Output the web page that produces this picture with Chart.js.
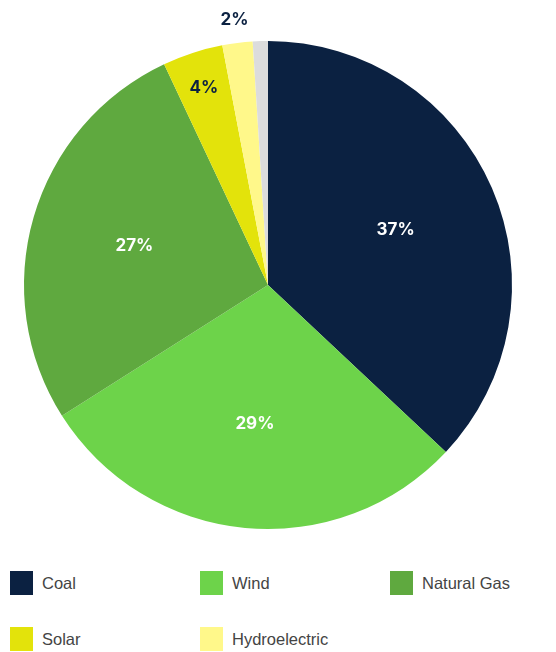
<!DOCTYPE html>
<html>
<head>
<meta charset="utf-8">
<script src="https://cdn.jsdelivr.net/npm/chart.js@4"></script>
<style>
  html, body { margin: 0; padding: 0; background: #fff; }
  #wrap { position: relative; width: 556px; height: 545px; }
  #legend { position: absolute; top: 571px; left: 10px; width: 546px; font-family: "Liberation Sans", Arial, sans-serif; font-size: 16.5px; color: #444; }
  .item { position: absolute; display: flex; align-items: center; height: 24px; }
  .box { width: 23px; height: 24px; margin-right: 9px; }
</style>
</head>
<body>
<div id="wrap"><canvas id="pie"></canvas></div>
<div id="legend"></div>
<script>
const labels = ["Coal", "Wind", "Natural Gas", "Solar", "Hydroelectric", "Other"];
const shares = [37, 29, 27, 4, 2, 1];
const colors = ["#0b2141", "#6dd34a", "#5fa93f", "#e3e30b", "#fff88a", "#dcdcdc"];
const labelColors = ["#ffffff", "#ffffff", "#ffffff", "#0b2141", "#0b2141", "#0b2141"];
const inLegend = [true, true, true, true, true, false];

// percent labels; small slices get pushed outward, tiny ones skipped
const pctLabels = {
    id: 'pctLabels',
    afterDatasetsDraw(chart) {
        const ctx = chart.ctx;
        const meta = chart.getDatasetMeta(0);
        ctx.save();
        ctx.font = 'bold 17px Inter, "DejaVu Sans", sans-serif';
        ctx.textAlign = 'center';
        ctx.textBaseline = 'middle';
        meta.data.forEach((arc, i) => {
            const v = shares[i];
            if (v < 2) return;
            const f = v >= 10 ? 0.57 : (v >= 3 ? 0.85 : 1.095);
            const mid = (arc.startAngle + arc.endAngle) / 2;
            const r = arc.outerRadius * f;
            const x = arc.x + Math.cos(mid) * r;
            const y = arc.y + Math.sin(mid) * r;
            ctx.fillStyle = labelColors[i];
            ctx.fillText(v + '%', x, y);
        });
        ctx.restore();
    }
};

new Chart(document.getElementById('pie'), {
    type: 'pie',
    data: {
        labels: labels,
        datasets: [{
            data: shares,
            backgroundColor: colors,
            borderWidth: 0
        }]
    },
    options: {
        responsive: true,
        maintainAspectRatio: false,
        animation: false,
        layout: { padding: { top: 41, bottom: 16, left: 24, right: 44 } },
        plugins: {
            legend: { display: false },
            tooltip: { enabled: false }
        }
    },
    plugins: [pctLabels]
});

// legend laid out in three columns below the pie
const legend = document.getElementById('legend');
let n = 0;
labels.forEach((name, i) => {
    if (!inLegend[i]) return;
    const el = document.createElement('div');
    el.className = 'item';
    el.style.left = (n % 3) * 190 + 'px';
    el.style.top = Math.floor(n / 3) * 56 + 'px';
    el.innerHTML = '<span class="box" style="background:' + colors[i] + '"></span>' + name;
    legend.appendChild(el);
    n++;
});
</script>
</body>
</html>
